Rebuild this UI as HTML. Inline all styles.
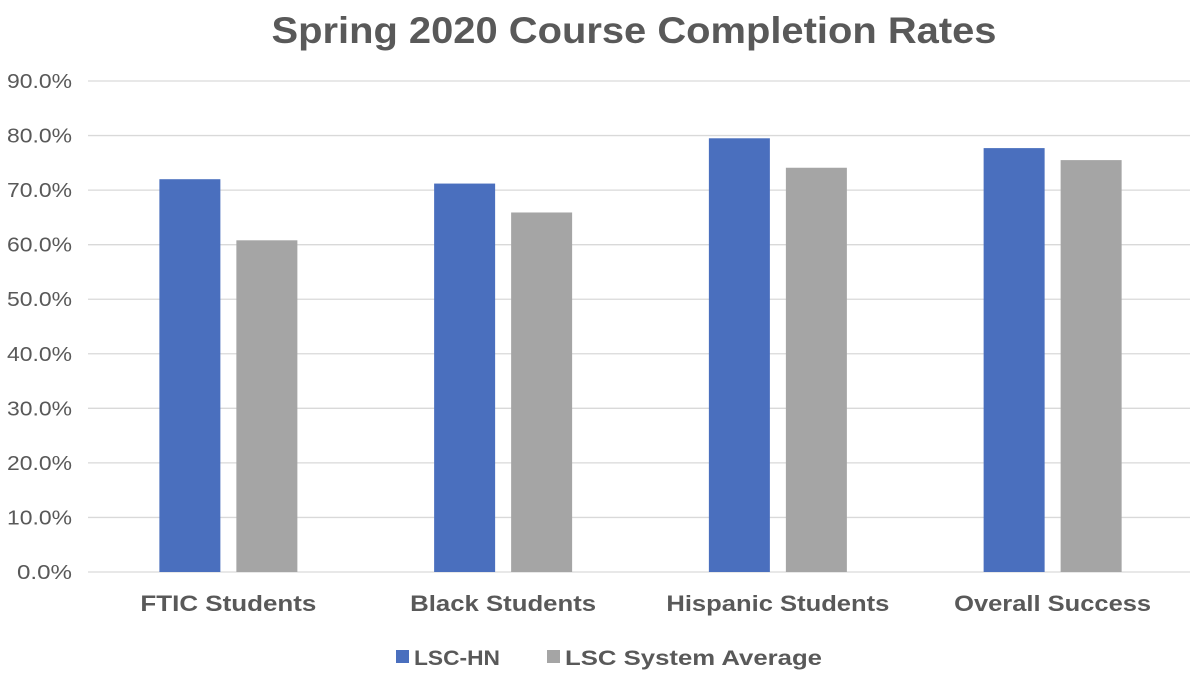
<!DOCTYPE html>
<html><head><meta charset="utf-8"><style>
html,body{margin:0;padding:0;background:#fff;}
svg{display:block;font-family:"Liberation Sans",Arial,sans-serif;}
</style></head><body>
<svg id="chart" width="1200" height="675" viewBox="0 0 1200 675">
<text x="634" y="43" text-anchor="middle" font-size="37" font-weight="bold" fill="#595959" textLength="725" lengthAdjust="spacingAndGlyphs">Spring 2020 Course Completion Rates</text>
<g id="grid"></g><g id="bars"></g><g id="labels"></g>
<g>
<rect x="396" y="650" width="13" height="13" fill="#4A6FBE"/>
<text x="414" y="665" font-size="21" font-weight="bold" fill="#595959" textLength="86" lengthAdjust="spacingAndGlyphs">LSC-HN</text>
<rect x="547" y="650" width="13" height="13" fill="#A5A5A5"/>
<text x="565" y="665" font-size="21" font-weight="bold" fill="#595959" textLength="257" lengthAdjust="spacingAndGlyphs">LSC System Average</text>
</g>
</svg>
<script>
const categories = ["FTIC Students","Black Students","Hispanic Students","Overall Success"];
const lscHN = [72.0, 71.2, 79.5, 77.7];
const systemAvg = [60.8, 65.9, 74.1, 75.5];
const yTicks = [0,10,20,30,40,50,60,70,80,90];

const NS="http://www.w3.org/2000/svg";
const plotL=91, plotR=1190, y0=572, yTop=81, yMax=90;
const y = v => y0 - (v/yMax)*(y0-yTop);
const catW=(plotR-plotL)/categories.length;
const cx = i => plotL + catW*(i+0.5);
function mk(tag,attrs,parent){const e=document.createElementNS(NS,tag);for(const k in attrs)e.setAttribute(k,attrs[k]);parent.appendChild(e);return e;}
const grid=document.getElementById('grid'), bars=document.getElementById('bars'), labels=document.getElementById('labels');
yTicks.forEach(t=>{
  const l=mk('line',{x1:88,x2:plotR,y1:y(t),y2:y(t),stroke:'#D9D9D9','stroke-width':1.3},grid);
  
  
  const s=t.toFixed(1)+'%';
  const tx=mk('text',{x:72,y:y(t)+7,'text-anchor':'end','font-size':20,fill:'#595959',textLength:(s.length===4?55:65),lengthAdjust:'spacingAndGlyphs'},labels);
  tx.textContent=s;
  
  
});
const catLen=[176,186,223,197];
const bw=61, gap=16;
categories.forEach((c,i)=>{
  const b1=mk('rect',{x:cx(i)-gap/2-bw,y:y(lscHN[i]),width:bw,height:y0-y(lscHN[i]),fill:'#4A6FBE'},bars);
  
  
  const b2=mk('rect',{x:cx(i)+gap/2,y:y(systemAvg[i]),width:bw,height:y0-y(systemAvg[i]),fill:'#A5A5A5'},bars);
  
  
  const t=mk('text',{x:cx(i),y:611,'text-anchor':'middle','font-size':22,'font-weight':'bold',fill:'#595959',textLength:catLen[i],lengthAdjust:'spacingAndGlyphs'},labels);
  t.textContent=c;
  
  
});
</script>
</body></html>
